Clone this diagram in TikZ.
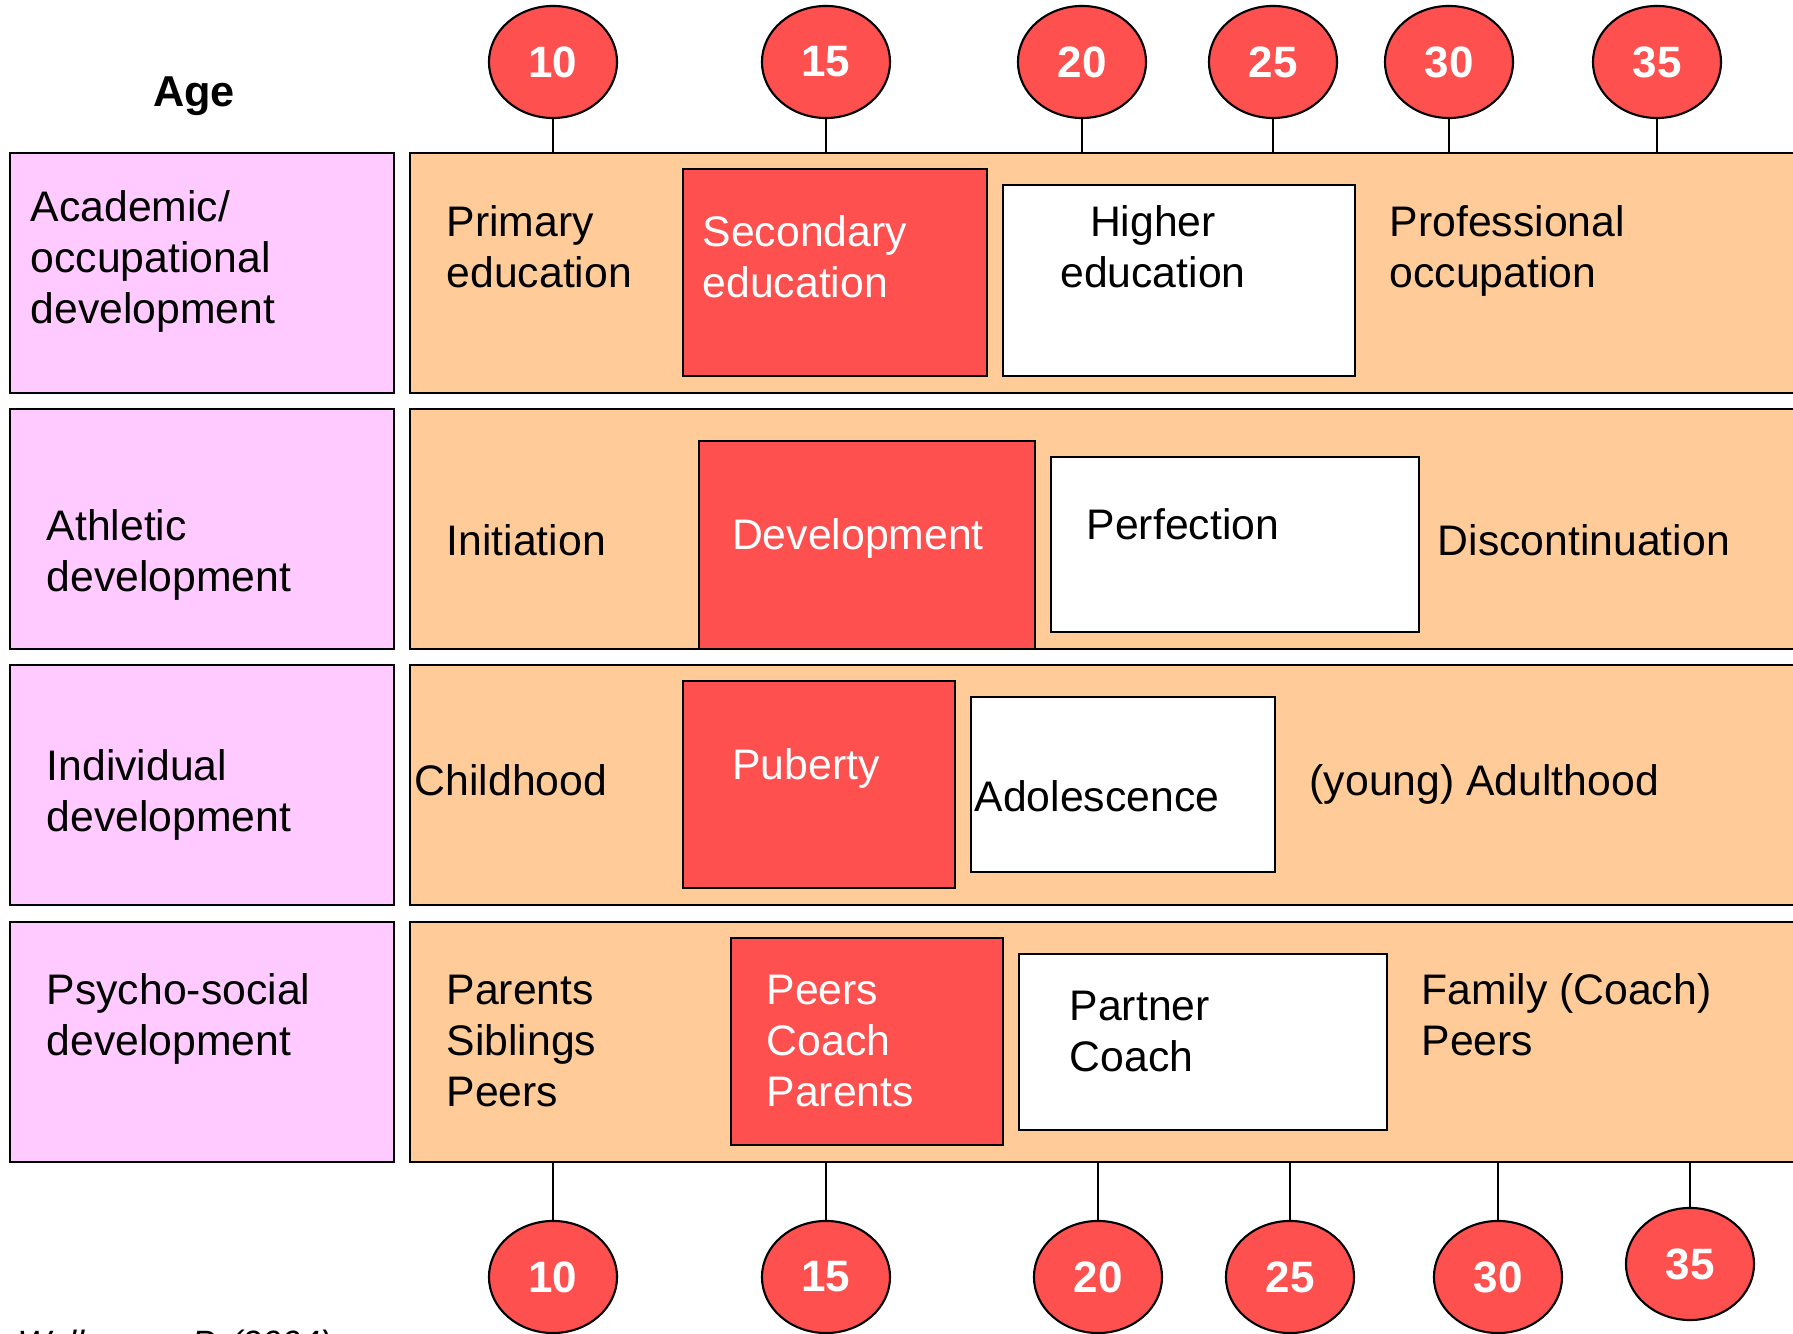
\documentclass[tikz,border=0pt]{standalone}
\usepackage{fontspec}
\setmainfont{Liberation Sans}
\usetikzlibrary{shapes.geometric}
\definecolor{lane}{HTML}{FFCC99}
\definecolor{label}{HTML}{FFCAFF}
\definecolor{stage}{HTML}{FF5050}
\begin{document}
\begin{tikzpicture}[x=0.01cm,y=-0.01cm,
    every node/.style={inner sep=0pt},
    txt/.style={font=\fontsize{12.15}{14.6}\selectfont,align=left,anchor=base west},
    wtxt/.style={txt,text=white},
    band/.style={draw,line width=0.6pt,anchor=north west,minimum height=2.4cm},
    box/.style={draw,line width=0.6pt,anchor=north west},
    age/.style={ellipse,draw,line width=0.6pt,fill=stage,text=white,
      minimum width=1.28cm,minimum height=1.12cm,font=\fontsize{12.5}{15}\selectfont\bfseries}]
      \useasboundingbox (0,0) rectangle (1793,1334);
      % rows
      \node[band,fill=label,minimum width=3.84cm] (acadl) at (9,152) {};
      \node[band,fill=label,minimum width=3.84cm] (athl) at (9,408) {};
      \node[band,fill=label,minimum width=3.84cm] (indl) at (9,664) {};
      \node[band,fill=label,minimum width=3.84cm] (psyl) at (9,921) {};
      \node[band,fill=lane,minimum width=14.41cm] (acad) at (409,152) {};
      \node[band,fill=lane,minimum width=14.41cm] (ath) at (409,408) {};
      \node[band,fill=lane,minimum width=14.41cm] (ind) at (409,664) {};
      \node[band,fill=lane,minimum width=14.41cm] (psy) at (409,921) {};
      \node[font=\fontsize{12.3}{15}\selectfont\bfseries] (agelabel) at (194,96) {Age};
      \node[txt] (acadt) at (30,324) {Academic/\\occupational\\development};
      \node[txt] (atht) at (46,592) {Athletic\\development};
      \node[txt] (indt) at (46,832) {Individual\\development};
      \node[txt] (psyt) at (46,1056) {Psycho-social\\development};
      % stage boxes
      \node[box,fill=stage,minimum width=3.04cm,minimum height=2.07cm] (sec) at (682,168) {};
      \node[box,fill=white,minimum width=3.52cm,minimum height=1.91cm] (high) at (1002,184) {};
      \node[box,fill=stage,minimum width=3.36cm,minimum height=2.08cm] (dev) at (698,440) {};
      \node[box,fill=white,minimum width=3.68cm,minimum height=1.75cm] (perf) at (1050,456) {};
      \node[box,fill=stage,minimum width=2.72cm,minimum height=2.07cm] (pub) at (682,680) {};
      \node[box,fill=white,minimum width=3.04cm,minimum height=1.75cm] (adol) at (970,696) {};
      \node[box,fill=stage,minimum width=2.72cm,minimum height=2.07cm] (peer) at (730,937) {};
      \node[box,fill=white,minimum width=3.68cm,minimum height=1.76cm] (part) at (1018,953) {};
      % stage texts
      \node[txt] (prim) at (446,288) {Primary\\education};
      \node[wtxt] (sect) at (702,298) {Secondary\\education};
      \node[txt,align=center,anchor=base] (hight) at (1153,288) {Higher\\education};
      \node[txt] (prof) at (1389,288) {Professional\\occupation};
      \node[txt] (init) at (446,556) {Initiation};
      \node[wtxt,anchor=base] (devt) at (858,550) {Development};
      \node[txt] (perft) at (1086,540) {Perfection};
      \node[txt] (disc) at (1437,556) {Discontinuation};
      \node[txt] (child) at (414,796) {Childhood};
      \node[wtxt,anchor=base] (pubt) at (806,780) {Puberty};
      \node[txt] (adolt) at (974,812) {Adolescence};
      \node[txt] (adult) at (1309,796) {(young) Adulthood};
      \node[txt] (par) at (446,1107) {Parents\\Siblings\\Peers};
      \node[wtxt] (peert) at (766,1107) {Peers\\Coach\\Parents};
      \node[txt] (partt) at (1069,1072) {Partner\\Coach};
      \node[txt] (fam) at (1421,1056) {Family (Coach)\\Peers};
      % ages
      \draw
        (553,62) node[age] (t10){10}
        (826,62) node[age] (t15){15}
        (1082,62) node[age] (t20){20}
        (1273,62) node[age] (t25){25}
        (1449,62) node[age] (t30){30}
        (1657,62) node[age] (t35){35}
        (553,1277) node[age] (b10){10}
        (826,1277) node[age] (b15){15}
        (1098,1277) node[age] (b20){20}
        (1290,1277) node[age] (b25){25}
        (1498,1277) node[age] (b30){30}
        (1690,1264) node[age] (b35){35};
      \begin{scope}[line width=0.5pt]
        \draw (t10) to (t10 |- acad.north);
        \draw (t15) to (t15 |- acad.north);
        \draw (t20) to (t20 |- acad.north);
        \draw (t25) to (t25 |- acad.north);
        \draw (t30) to (t30 |- acad.north);
        \draw (t35) to (t35 |- acad.north);
        \draw (b10) to (b10 |- psy.south);
        \draw (b15) to (b15 |- psy.south);
        \draw (b20) to (b20 |- psy.south);
        \draw (b25) to (b25 |- psy.south);
        \draw (b30) to (b30 |- psy.south);
        \draw (b35) to (b35 |- psy.south);
      \end{scope}
      \node[font=\fontsize{10}{12}\selectfont\itshape,anchor=base west] (src) at (17,1355) {Wylleman, P. (2004)};
    \end{tikzpicture}
\end{document}
